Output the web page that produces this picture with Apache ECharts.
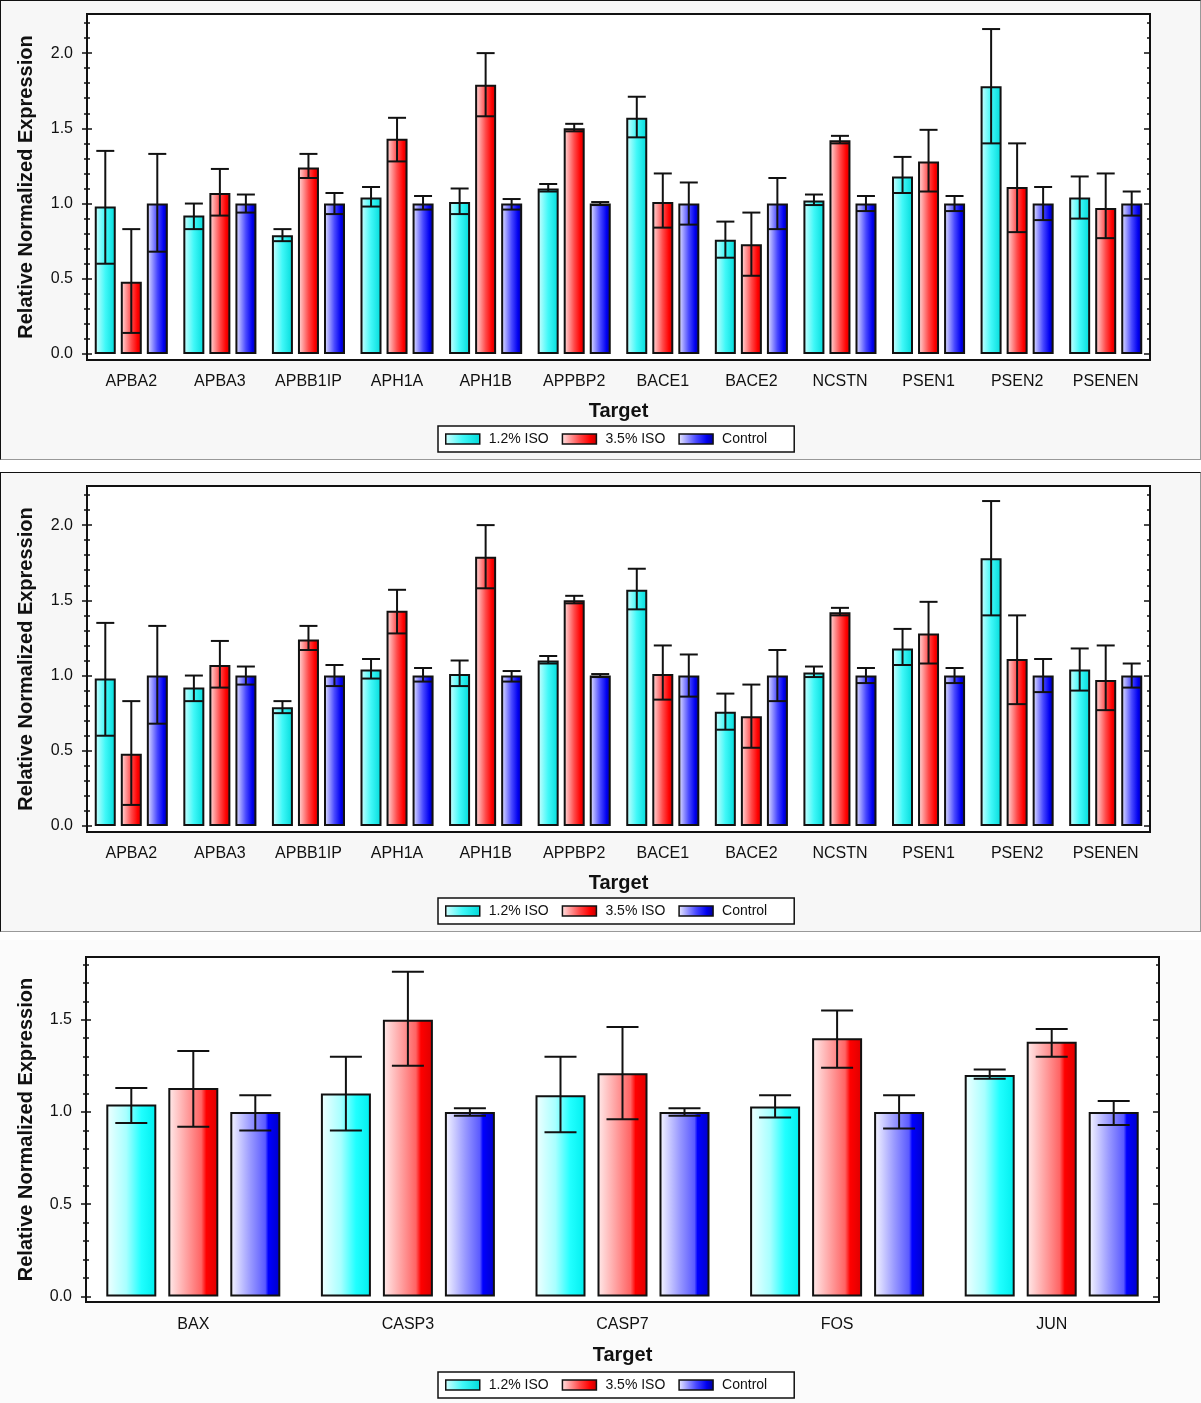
<!DOCTYPE html>
<html>
<head>
<meta charset="utf-8">
<script src="https://cdn.jsdelivr.net/npm/echarts@6/dist/echarts.min.js"></script>
<style>
  body { margin: 0; background: #fff; }
  #wrap { position: relative; width: 1201px; height: 1403px; }
  .panel { position: absolute; box-sizing: border-box; left: 0; width: 1201px; }
  .framed { background: #f7f7f7; border-top: 1px solid #111; border-left: 1px solid #111; border-right: 1px solid #999; border-bottom: 1px solid #999; }
  #chart { position: absolute; left: 0; top: 0; width: 1201px; height: 1403px; }
</style>
</head>
<body>
<div id="wrap">
  <div class="panel framed" style="top:0;height:460px"></div>
  <div class="panel framed" style="top:472px;height:460px"></div>
  <div class="panel" style="top:940px;height:463px;background:#fbfbfb"></div>
  <div id="chart"></div>
</div>
<script>
// 图1、图2 的基因（两张图数据相同）
const targetsA = ['APBA2', 'APBA3', 'APBB1IP', 'APH1A', 'APH1B', 'APPBP2', 'BACE1', 'BACE2', 'NCSTN', 'PSEN1', 'PSEN2', 'PSENEN'];
const iso12A    = [0.98, 0.92, 0.79, 1.04, 1.01, 1.10, 1.57, 0.76, 1.02, 1.18, 1.78, 1.04];
const iso12AHi  = [1.35, 1.00, 0.83, 1.11, 1.10, 1.13, 1.71, 0.88, 1.06, 1.31, 2.16, 1.18];
const iso12ALo  = [0.60, 0.83, 0.75, 0.98, 0.93, 1.08, 1.44, 0.64, 0.99, 1.07, 1.40, 0.90];
const iso35A    = [0.48, 1.07, 1.24, 1.43, 1.79, 1.50, 1.01, 0.73, 1.42, 1.28, 1.11, 0.97];
const iso35AHi  = [0.83, 1.23, 1.33, 1.57, 2.00, 1.53, 1.20, 0.94, 1.45, 1.49, 1.40, 1.20];
const iso35ALo  = [0.14, 0.92, 1.17, 1.28, 1.58, 1.48, 0.84, 0.52, 1.40, 1.08, 0.81, 0.77];
const ctrlA     = [1.00, 1.00, 1.00, 1.00, 1.00, 1.00, 1.00, 1.00, 1.00, 1.00, 1.00, 1.00];
const ctrlAHi   = [1.33, 1.06, 1.07, 1.05, 1.03, 1.01, 1.14, 1.17, 1.05, 1.05, 1.11, 1.08];
const ctrlALo   = [0.68, 0.94, 0.93, 0.96, 0.96, 0.99, 0.86, 0.83, 0.95, 0.95, 0.89, 0.92];

// 图3 的基因
const targetsB = ['BAX', 'CASP3', 'CASP7', 'FOS', 'JUN'];
const iso12B    = [1.04, 1.10, 1.09, 1.03, 1.20];
const iso12BHi  = [1.13, 1.30, 1.30, 1.09, 1.23];
const iso12BLo  = [0.94, 0.90, 0.89, 0.97, 1.18];
const iso35B    = [1.13, 1.50, 1.21, 1.40, 1.38];
const iso35BHi  = [1.33, 1.76, 1.46, 1.55, 1.45];
const iso35BLo  = [0.92, 1.25, 0.96, 1.24, 1.30];
const ctrlB     = [1.00, 1.00, 1.00, 1.00, 1.00];
const ctrlBHi   = [1.09, 1.02, 1.02, 1.09, 1.06];
const ctrlBLo   = [0.90, 0.98, 0.98, 0.91, 0.93];

// 刻度
const yLabelsA = [0, 0.5, 1.0, 1.5, 2.0];
const yMinorA  = [0, 0.1, 0.2, 0.3, 0.4, 0.5, 0.6, 0.7, 0.8, 0.9, 1.0, 1.1, 1.2, 1.3, 1.4, 1.5, 1.6, 1.7, 1.8, 1.9, 2.0, 2.1, 2.2];
const yLabelsB = [0, 0.5, 1.0, 1.5];
const yMinorB  = [0, 0.1, 0.2, 0.3, 0.4, 0.5, 0.6, 0.7, 0.8, 0.9, 1.0, 1.1, 1.2, 1.3, 1.4, 1.5, 1.6, 1.7, 1.8];

const seriesNames = ['1.2% ISO', '3.5% ISO', 'Control'];

const FONT = '"Liberation Sans", Arial, sans-serif';
const INK = '#111';

const grad = (stops) => new echarts.graphic.LinearGradient(0, 0, 1, 0,
  stops.map((c, i) => ({ offset: c[0], color: c[1] })));

// 柱子的渐变色
const fillsA = [
  grad([[0, '#d4ffff'], [0.5, '#40f8f8'], [1, '#00dada']]),
  grad([[0, '#ffe4e4'], [0.5, '#ff4a4a'], [0.8, '#ff0000'], [1, '#c00000']]),
  grad([[0, '#ececff'], [0.5, '#4848ff'], [0.8, '#0000f0'], [1, '#000090']])
];
const fillsB = [
  grad([[0, '#f2ffff'], [0.4, '#a8ffff'], [0.7, '#20ffff'], [1, '#00eeee']]),
  grad([[0, '#ffecec'], [0.4, '#ff9a9a'], [0.66, '#ff6464'], [0.76, '#ff0000'], [1, '#dd0000']]),
  grad([[0, '#f8f8ff'], [0.4, '#9a9aff'], [0.7, '#5a5aff'], [0.76, '#0000ff'], [1, '#0000c8']])
];

// 三个面板的布局
const panels = [
  { cats: targetsA, top: 14,  height: 346, left: 87, right: 51, min: -0.04, max: 2.26,
    labels: yLabelsA, minor: yMinorA, barW: 21, step: 26, cap: 9, legendTop: 426,
    vals: [iso12A, iso35A, ctrlA], hi: [iso12AHi, iso35AHi, ctrlAHi], lo: [iso12ALo, iso35ALo, ctrlALo],
    fills: fillsA, labelMargin: 14, nameGapX: 41, nameGapY: 51 },
  { cats: targetsA, top: 486, height: 346, left: 87, right: 51, min: -0.04, max: 2.26,
    labels: yLabelsA, minor: yMinorA, barW: 21, step: 26, cap: 9, legendTop: 898,
    vals: [iso12A, iso35A, ctrlA], hi: [iso12AHi, iso35AHi, ctrlAHi], lo: [iso12ALo, iso35ALo, ctrlALo],
    fills: fillsA, labelMargin: 14, nameGapX: 41, nameGapY: 51 },
  { cats: targetsB, top: 957, height: 345, left: 86, right: 42, min: -0.03, max: 1.84,
    labels: yLabelsB, minor: yMinorB, barW: 50, step: 62, cap: 16, legendTop: 1372,
    vals: [iso12B, iso35B, ctrlB], hi: [iso12BHi, iso35BHi, ctrlBHi], lo: [iso12BLo, iso35BLo, ctrlBLo],
    fills: fillsB, labelMargin: 15, nameGapX: 43, nameGapY: 50 }
];

function errRender(offset, half) {
  return function (params, api) {
    const c = api.value(0);
    const pHi = api.coord([c, api.value(1)]);
    const pLo = api.coord([c, api.value(2)]);
    const x = pHi[0] + offset;
    const st = { stroke: INK, lineWidth: 2 };
    return {
      type: 'group',
      children: [
        { type: 'line', shape: { x1: x, y1: pHi[1], x2: x, y2: pLo[1] }, style: st },
        { type: 'line', shape: { x1: x - half, y1: pHi[1], x2: x + half, y2: pHi[1] }, style: st },
        { type: 'line', shape: { x1: x - half, y1: pLo[1], x2: x + half, y2: pLo[1] }, style: st }
      ]
    };
  };
}

const grid = [], xAxis = [], yAxis = [], series = [], legend = [];
const axisLineStyle = { color: INK, width: 2 };

panels.forEach((p, gi) => {
  grid.push({ left: p.left, right: p.right, top: p.top, height: p.height,
    show: true, backgroundColor: '#fff', borderWidth: 0 });

  xAxis.push({
    type: 'category', gridIndex: gi, position: 'bottom', data: p.cats,
    axisLine: { onZero: false, lineStyle: axisLineStyle },
    axisTick: { alignWithLabel: true, length: 6, lineStyle: { color: INK, width: 1.5 } },
    axisLabel: { interval: 0, margin: p.labelMargin, fontSize: 16, color: INK, fontFamily: FONT },
    name: 'Target', nameLocation: 'middle', nameGap: p.nameGapX,
    nameTextStyle: { fontSize: 20, fontWeight: 'bold', color: INK, fontFamily: FONT }
  });
  xAxis.push({
    type: 'category', gridIndex: gi, position: 'top', data: p.cats,
    axisLine: { onZero: false, lineStyle: axisLineStyle },
    axisTick: { alignWithLabel: true, inside: true, length: 6, lineStyle: { color: INK, width: 1.5 } },
    axisLabel: { show: false }
  });

  const base = { type: 'value', gridIndex: gi, min: p.min, max: p.max, splitLine: { show: false },
    axisLine: { show: true, onZero: false, lineStyle: axisLineStyle } };
  const tick = (inside, len, vals) => ({ show: true, inside: inside, length: len, customValues: vals,
    lineStyle: { color: INK, width: 1.5 } });
  yAxis.push(Object.assign({}, base, {
    position: 'left', axisTick: tick(false, 5, p.labels),
    axisLabel: { show: true, customValues: p.labels, formatter: v => v.toFixed(1), margin: 14,
      fontSize: 16, color: INK, fontFamily: FONT },
    name: 'Relative Normalized Expression', nameLocation: 'middle', nameGap: p.nameGapY,
    nameTextStyle: { fontSize: 20, fontWeight: 'bold', color: INK, fontFamily: FONT }
  }));
  yAxis.push(Object.assign({}, base, { position: 'left', axisTick: tick(true, 5, p.labels), axisLabel: { show: false } }));
  yAxis.push(Object.assign({}, base, { position: 'left', axisTick: tick(false, 3, p.minor), axisLabel: { show: false } }));
  yAxis.push(Object.assign({}, base, { position: 'left', axisTick: tick(true, 3, p.minor), axisLabel: { show: false } }));
  yAxis.push(Object.assign({}, base, { position: 'right', axisTick: tick(true, 6, p.labels), axisLabel: { show: false } }));
  yAxis.push(Object.assign({}, base, { position: 'right', axisTick: tick(true, 3, p.minor), axisLabel: { show: false } }));

  const gapPct = Math.round((p.step - p.barW) / p.barW * 100) + '%';
  seriesNames.forEach((name, si) => {
    series.push({
      type: 'bar', name: name, xAxisIndex: gi * 2, yAxisIndex: gi * 6,
      data: p.vals[si], barWidth: p.barW, barGap: gapPct,
      itemStyle: { color: p.fills[si], borderColor: INK, borderWidth: 2 },
      emphasis: { disabled: true }
    });
  });
  seriesNames.forEach((name, si) => {
    series.push({
      type: 'custom', name: name + ' err', xAxisIndex: gi * 2, yAxisIndex: gi * 6, z: 5,
      renderItem: errRender((si - 1) * p.step, p.cap),
      encode: { x: 0, y: [1, 2] },
      data: p.cats.map((c, i) => [i, p.hi[si][i], p.lo[si][i]])
    });
  });

  legend.push({
    data: seriesNames, left: 438, top: p.legendTop, icon: 'rect', selectedMode: false,
    itemWidth: 34, itemHeight: 10, itemGap: 13, padding: [6, 27, 6, 7],
    borderColor: INK, borderWidth: 1.5, backgroundColor: '#fff',
    itemStyle: { borderColor: INK, borderWidth: 1.5 },
    textStyle: { fontSize: 14, color: INK, fontFamily: FONT, padding: [0, 0, 0, 4] }
  });
});

const chart = echarts.init(document.getElementById('chart'));
chart.setOption({
  animation: false,
  textStyle: { fontFamily: FONT },
  grid: grid, xAxis: xAxis, yAxis: yAxis, legend: legend, series: series
});
</script>
</body>
</html>
